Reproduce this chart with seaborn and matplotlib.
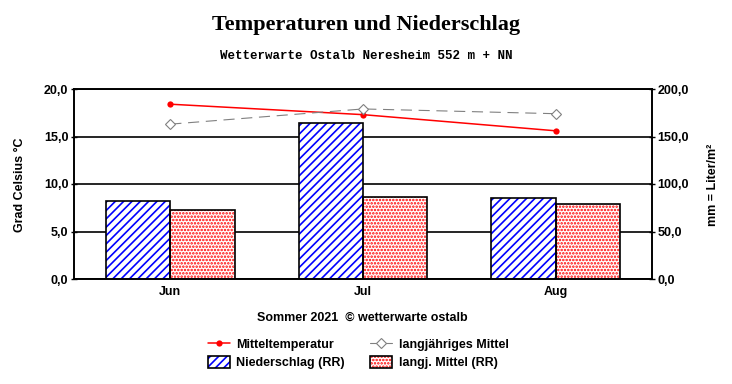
import numpy as np
import pandas as pd
import matplotlib
matplotlib.use("Agg")
import matplotlib.pyplot as plt
import seaborn as sns
from matplotlib.ticker import FuncFormatter, FixedLocator
from matplotlib.lines import Line2D
from matplotlib.patches import Patch
from matplotlib.legend_handler import HandlerTuple

# data
months = ["Jun", "Jul", "Aug"]
temp_mean = [18.4, 17.3, 15.6]          # Mitteltemperatur (°C)
temp_longterm = [16.3, 17.9, 17.4]      # langjähriges Mittel (°C)
rain = [82.0, 164.2, 85.3]              # Niederschlag RR (mm)
rain_longterm = [72.6, 86.3, 79.3]      # langj. Mittel RR (mm)

sns.set_style("white")
plt.rcParams["font.family"] = ["Liberation Sans", "DejaVu Sans"]
plt.rcParams["font.weight"] = "bold"
plt.rcParams["hatch.linewidth"] = 1.2
for k in ["text.color", "axes.labelcolor", "xtick.color", "ytick.color"]:
    plt.rcParams[k] = "black"

fig = plt.figure(figsize=(7.32, 3.84), dpi=100)
ax2 = fig.add_axes([74 / 732, 1 - 279 / 384, (652 - 74) / 732, 190 / 384])
ax = ax2.twinx()

# bars on the rain axis
bars = pd.DataFrame({
    "Monat": months * 2,
    "mm": rain + rain_longterm,
    "Serie": ["Niederschlag (RR)"] * 3 + ["langj. Mittel (RR)"] * 3,
})
sns.barplot(data=bars, x="Monat", y="mm", hue="Serie", ax=ax2, width=2 / 3,
            gap=0, palette=["white", "white"], legend=False, zorder=3)
n = len(months)
for i, p in enumerate(list(ax2.patches)):
    p.set_linewidth(0)
    if i < n:
        p.set_hatch("////")
        p.set_edgecolor("#0000ff")
    else:
        p.set_hatch(".....")
        p.set_edgecolor("#ff0000")
    # black frame on top
    ax2.add_patch(plt.Rectangle(p.get_xy(), p.get_width(), p.get_height(),
                                fill=False, edgecolor="black", lw=1.2, zorder=4))

ax2.set_ylim(0, 200)
ax2.yaxis.set_major_locator(FixedLocator([0, 50, 100, 150, 200]))
ax2.grid(axis="y", color="black", lw=1.2, zorder=0)
ax2.set_axisbelow(True)
ax2.set_xlim(-0.5, n - 0.5)
ax2.set_xlabel("")
ax2.set_ylabel("")

# temperature lines on the primary axis (left)
x = np.arange(n)
sns.lineplot(x=x, y=temp_mean, ax=ax, color="#ff0000", lw=1.1, marker="o",
             markersize=4.5, markeredgewidth=0)
sns.lineplot(x=x, y=temp_longterm, ax=ax, color="#808080", lw=0.8,
             marker="D", markersize=5, markerfacecolor="white",
             markeredgecolor="#808080", markeredgewidth=0.8)
ax.lines[1].set_dashes([10, 6])
ax.set_ylim(0, 20)
ax.yaxis.set_major_locator(FixedLocator([0, 5, 10, 15, 20]))

# swap sides: temperature left, rain right
ax.yaxis.tick_left()
ax.yaxis.set_label_position("left")
ax2.yaxis.tick_right()
ax2.yaxis.set_label_position("right")

fmt = FuncFormatter(lambda v, _: f"{v:.1f}".replace(".", ","))
ax.yaxis.set_major_formatter(fmt)
ax2.yaxis.set_major_formatter(fmt)

ax2.set_xticks(range(n))
ax2.set_xticklabels(months)
ax2.set_xticks(np.arange(-0.5, n, 1), minor=True)
ax2.tick_params(axis="x", which="major", length=0, pad=5, labelsize=9)
ax2.tick_params(axis="x", which="minor", length=5, direction="inout", width=1)
ax2.tick_params(axis="y", length=4, direction="inout", labelsize=9, pad=2, width=1)
ax.tick_params(axis="y", length=4, direction="inout", labelsize=9, pad=2, width=1)
for a in (ax, ax2):
    for s in a.spines.values():
        s.set_color("black")
        s.set_linewidth(1.2)
ax.set_zorder(ax2.get_zorder() + 1)
ax.patch.set_visible(False)

fig.text(20 / 732, 1 - 185 / 384, "Grad Celsius °C", rotation=90,
         ha="center", va="center", fontsize=9, fontweight="bold")
fig.text(713 / 732, 1 - 185 / 384, "mm = Liter/m²", rotation=90,
         ha="center", va="center", fontsize=9, fontweight="bold")

fig.text(0.5, 1 - 25 / 384, "Temperaturen und Niederschlag", ha="center",
         va="center", fontsize=16, fontweight="bold", family="Liberation Serif")
fig.text(0.5, 1 - 56 / 384, "Wetterwarte Ostalb Neresheim 552 m + NN",
         ha="center", va="center", fontsize=9, fontweight="bold",
         family="Liberation Mono")
fig.text(362 / 732, 1 - 318 / 384, "Sommer 2021  © wetterwarte ostalb",
         ha="center", va="center", fontsize=9, fontweight="bold")

h_temp = Line2D([], [], color="#ff0000", lw=1.1, marker="o", markersize=4.5,
                markeredgewidth=0)
h_long = Line2D([], [], color="#808080", lw=0.8, marker="D", markersize=5,
                markerfacecolor="white", markeredgecolor="#808080",
                markeredgewidth=0.8)
h_rr = (Patch(facecolor="white", edgecolor="#0000ff", hatch="////", lw=0),
        Patch(fill=False, edgecolor="black", lw=1.2))
h_rrl = (Patch(facecolor="white", edgecolor="#ff0000", hatch=".....", lw=0),
         Patch(fill=False, edgecolor="black", lw=1.2))
fig.legend([h_temp, h_rr, h_long, h_rrl],
           ["Mitteltemperatur", "Niederschlag (RR)", "langjähriges Mittel",
            "langj. Mittel (RR)"],
           handler_map={tuple: HandlerTuple(ndivide=1)},
           ncol=2, loc="center", bbox_to_anchor=(358 / 732, 1 - 353.5 / 384),
           frameon=False, fontsize=9, handlelength=1.8, handleheight=1.0,
           columnspacing=2.0, labelspacing=0.45, handletextpad=0.5,
           borderpad=0)

fig.savefig("out.png", dpi=100)
